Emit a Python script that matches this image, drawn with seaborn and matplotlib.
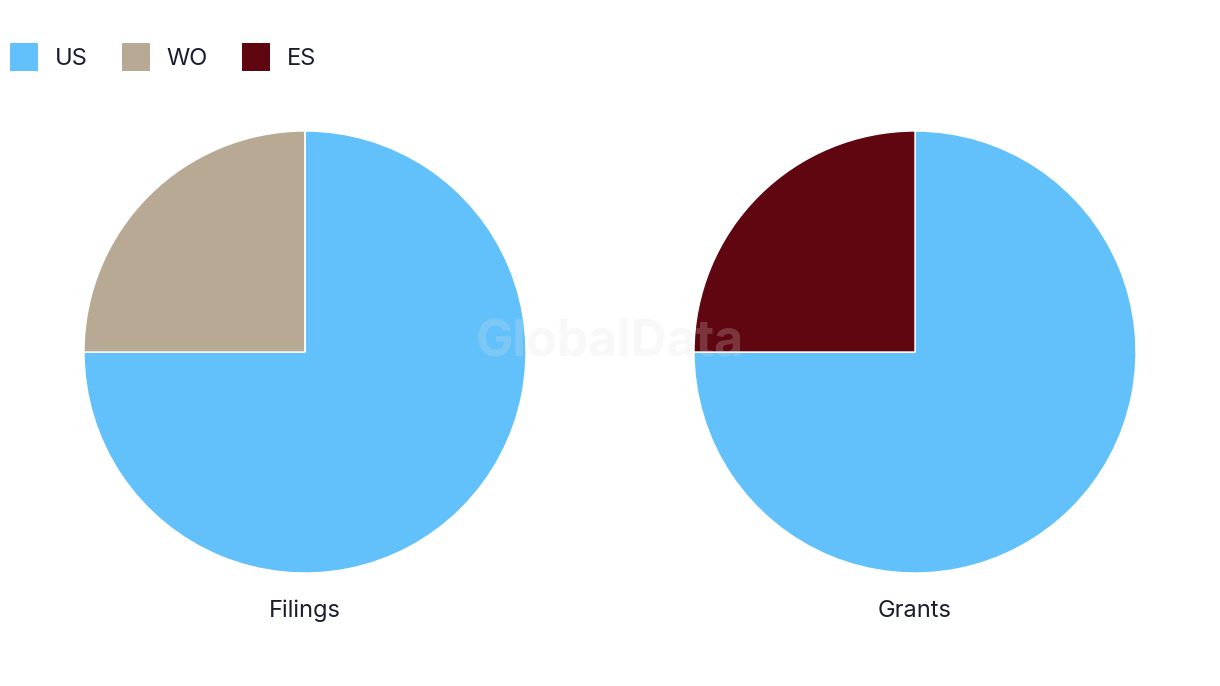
import matplotlib
matplotlib.use("Agg")
import matplotlib.pyplot as plt
from matplotlib.patches import Rectangle
import seaborn as sns

categories = ["US", "WO", "ES"]
filings_values = [75, 25, 0]
grants_values = [75, 0, 25]
panel_titles = ["Filings", "Grants"]
colors = ["#62C1FA", "#B8A995", "#5F0610"]

sns.set_theme(style="white")
plt.rcParams["font.family"] = ["Inter", "DejaVu Sans"]
text_color = "#1B1D2F"

W, H = 1220, 686
fig = plt.figure(figsize=(W / 100, H / 100), dpi=100)
fig.patch.set_facecolor("white")

r = 221
centers = [(305, 352), (915, 352)]
for (cx, cy), vals, title in zip(centers, [filings_values, grants_values], panel_titles):
    ax = fig.add_axes([(cx - r) / W, (H - cy - r) / H, 2 * r / W, 2 * r / H])
    ax.pie(vals, colors=colors, startangle=90, counterclock=False,
           wedgeprops=dict(edgecolor="white", linewidth=1))
    ax.set_xlim(-1, 1)
    ax.set_ylim(-1, 1)
    ax.set_aspect("equal")
    ax.axis("off")
    fig.text(cx / W, 1 - 611 / H, title, ha="center", va="center",
             fontsize=17, color=text_color)

fig.text(610 / W, 1 - 343 / H, "GlobalData", ha="center", va="center",
         fontsize=36, fontweight="bold", color="#e0e0e0", alpha=0.22, zorder=10)

# legend (manual layout in pixel positions)
sq_x = [10, 122, 242]
txt_x = [55, 166, 287]
for c, lab, sx, tx in zip(colors, categories, sq_x, txt_x):
    fig.patches.append(Rectangle((sx / W, 1 - 71 / H), 28 / W, 28 / H,
                                 transform=fig.transFigure, facecolor=c,
                                 edgecolor="none", figure=fig))
    fig.text(tx / W, 1 - 59 / H, lab, ha="left", va="center",
             fontsize=17, color=text_color)

fig.savefig("out.png", dpi=100)
